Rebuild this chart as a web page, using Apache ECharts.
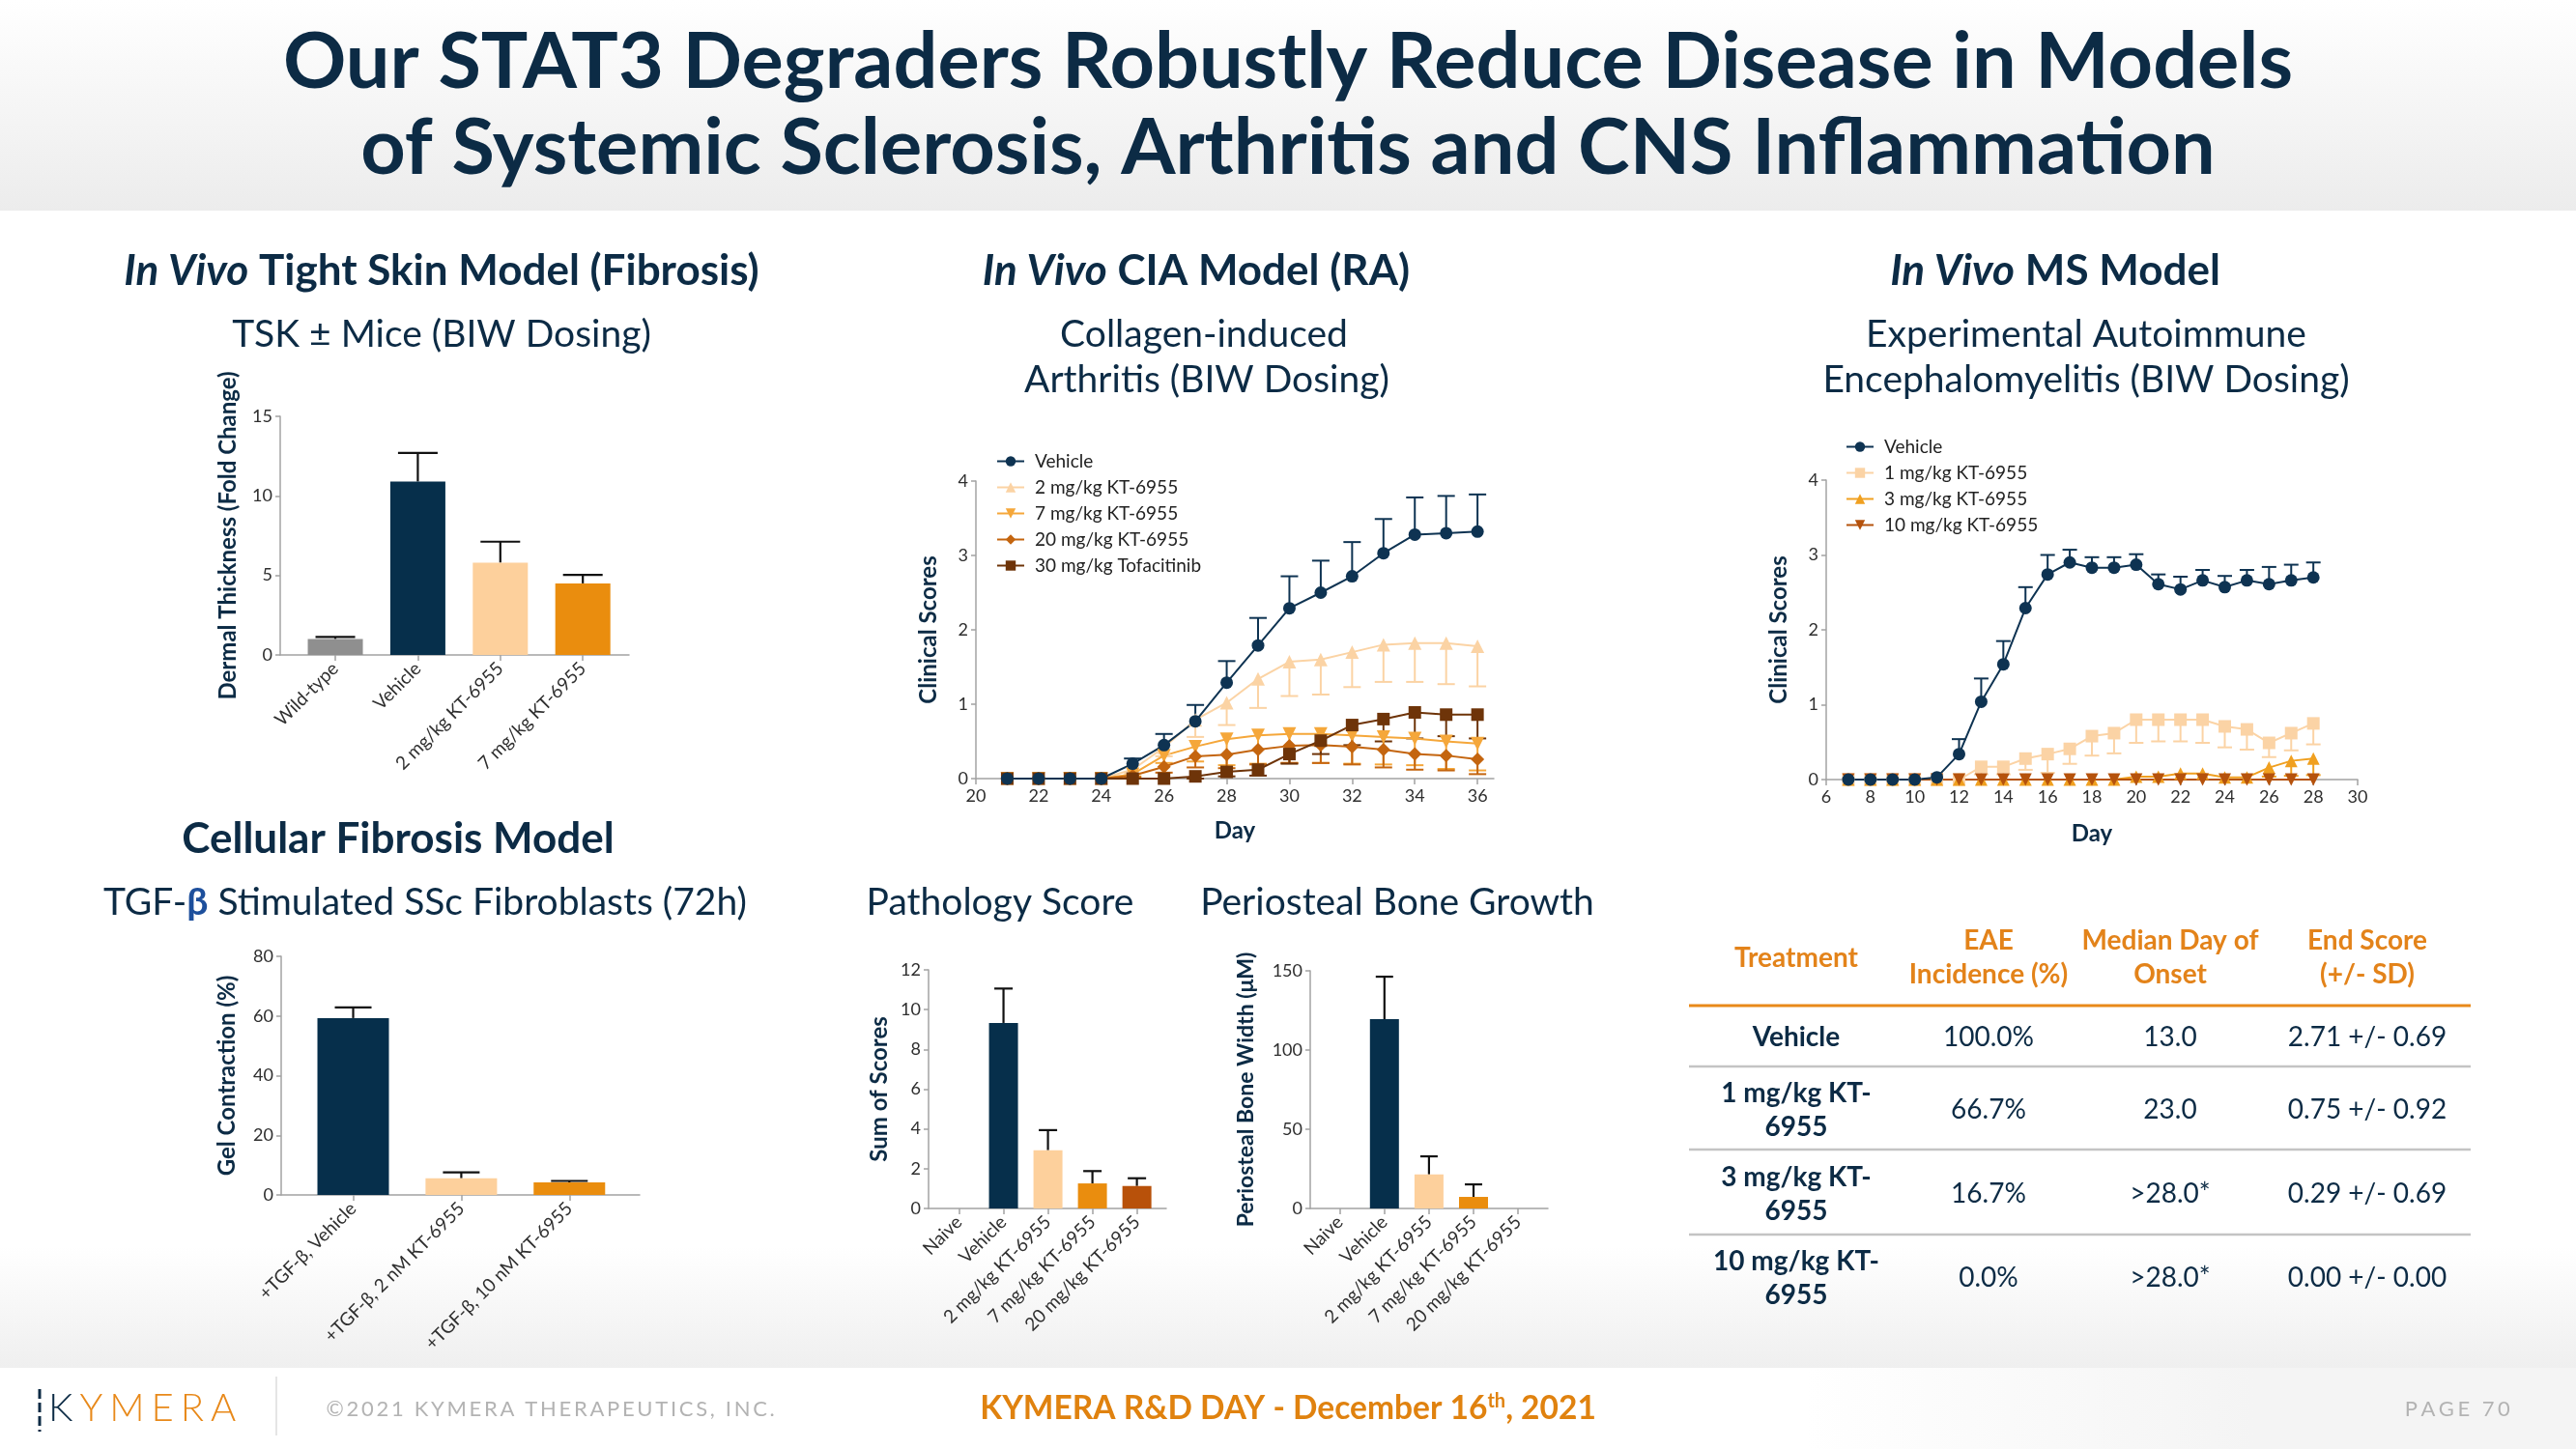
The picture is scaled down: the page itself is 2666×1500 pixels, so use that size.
<!DOCTYPE html>
<html><head><meta charset="utf-8">
<script src="https://cdn.jsdelivr.net/npm/echarts@6/dist/echarts.min.js"></script>
<style>html,body{margin:0;padding:0;background:#fff}#c{width:2666px;height:1500px}</style>
</head><body><div id="c"></div>
<script>
// ---------- DATA ----------
const tskCategories = ['Wild-type', 'Vehicle', '2 mg/kg KT-6955', '7 mg/kg KT-6955'];
const tskValues = [1.0, 10.9, 5.8, 4.5];
const tskErrors = [0.13, 1.8, 1.32, 0.53];

const gelCategories = ['+TGF-β, Vehicle', '+TGF-β, 2 nM KT-6955', '+TGF-β, 10 nM KT-6955'];
const gelValues = [59.3, 5.6, 4.2];
const gelErrors = [3.6, 2.0, 0.5];

const pathCategories = ['Naive', 'Vehicle', '2 mg/kg KT-6955', '7 mg/kg KT-6955', '20 mg/kg KT-6955'];
const pathValues = [0, 9.33, 2.93, 1.26, 1.13];
const pathErrors = [0, 1.73, 1.01, 0.62, 0.39];

const periCategories = ['Naive', 'Vehicle', '2 mg/kg KT-6955', '7 mg/kg KT-6955', '20 mg/kg KT-6955'];
const periValues = [0, 119.5, 21.5, 7.3, 0];
const periErrors = [0, 26.8, 11.4, 7.9, 0];

const ciaDays = [21, 22, 23, 24, 25, 26, 27, 28, 29, 30, 31, 32, 33, 34, 35, 36];
const ciaNames = ['Vehicle', '2 mg/kg KT-6955', '7 mg/kg KT-6955', '20 mg/kg KT-6955', '30 mg/kg Tofacitinib'];
const ciaVehicle = [0, 0, 0, 0, 0.20, 0.45, 0.77, 1.29, 1.79, 2.29, 2.50, 2.72, 3.03, 3.28, 3.30, 3.32];
const ciaVehicleErr = [0, 0, 0, 0, 0.07, 0.15, 0.22, 0.29, 0.37, 0.43, 0.43, 0.46, 0.46, 0.50, 0.50, 0.50];
const cia2mg = [0, 0, 0, 0, 0.12, 0.42, 0.79, 1.02, 1.34, 1.57, 1.60, 1.70, 1.80, 1.82, 1.82, 1.78];
const cia2mgErr = [0, 0, 0, 0, 0.05, 0.12, 0.23, 0.30, 0.39, 0.46, 0.47, 0.47, 0.50, 0.52, 0.55, 0.54];
const cia7mg = [0, 0, 0, 0, 0.06, 0.31, 0.43, 0.53, 0.58, 0.60, 0.60, 0.58, 0.56, 0.54, 0.50, 0.47];
const cia7mgErr = [0, 0, 0, 0, 0.03, 0.10, 0.20, 0.35, 0.38, 0.39, 0.39, 0.38, 0.37, 0.36, 0.37, 0.36];
const cia20mg = [0, 0, 0, 0, 0.04, 0.16, 0.30, 0.32, 0.39, 0.44, 0.45, 0.43, 0.39, 0.33, 0.31, 0.26];
const cia20mgErr = [0, 0, 0, 0, 0.02, 0.08, 0.15, 0.18, 0.20, 0.23, 0.24, 0.24, 0.24, 0.21, 0.20, 0.20];
const ciaTofa = [0, 0, 0, 0, 0, 0, 0.03, 0.09, 0.12, 0.33, 0.51, 0.72, 0.80, 0.89, 0.86, 0.86];
const ciaTofaErr = [0, 0, 0, 0, 0, 0, 0.03, 0.06, 0.08, 0.13, 0.18, 0.27, 0.30, 0.35, 0.29, 0.32];
const ciaTicks = [20, 22, 24, 26, 28, 30, 32, 34, 36];

const msDays = [7, 8, 9, 10, 11, 12, 13, 14, 15, 16, 17, 18, 19, 20, 21, 22, 23, 24, 25, 26, 27, 28];
const msNames = ['Vehicle', '1 mg/kg KT-6955', '3 mg/kg KT-6955', '10 mg/kg KT-6955'];
const msVehicle = [0, 0, 0, 0, 0.03, 0.34, 1.04, 1.54, 2.29, 2.74, 2.90, 2.83, 2.83, 2.87, 2.61, 2.54, 2.66, 2.57, 2.66, 2.61, 2.66, 2.70];
const msVehicleErr = [0, 0, 0, 0, 0, 0.20, 0.31, 0.31, 0.28, 0.26, 0.17, 0.14, 0.14, 0.14, 0.13, 0.17, 0.14, 0.15, 0.14, 0.23, 0.21, 0.20];
const ms1mg = [0, 0, 0, 0, 0, 0, 0.17, 0.17, 0.28, 0.34, 0.41, 0.58, 0.62, 0.80, 0.80, 0.80, 0.80, 0.71, 0.67, 0.49, 0.62, 0.75];
const ms1mgErr = [0, 0, 0, 0, 0, 0, 0.10, 0.10, 0.15, 0.25, 0.20, 0.26, 0.27, 0.31, 0.29, 0.29, 0.31, 0.28, 0.27, 0.19, 0.23, 0.28];
const ms3mg = [0, 0, 0, 0, 0, 0, 0, 0, 0, 0, 0, 0, 0, 0.04, 0.04, 0.08, 0.08, 0.03, 0.03, 0.16, 0.25, 0.28];
const ms3mgErr = [0, 0, 0, 0, 0, 0, 0, 0, 0, 0, 0, 0, 0, 0.04, 0.04, 0.08, 0.08, 0.03, 0.03, 0.12, 0.20, 0.22];
const ms10mg = [0, 0, 0, 0, 0, 0, 0, 0, 0, 0, 0, 0, 0, 0, 0, 0, 0, 0, 0, 0, 0, 0];
const msTicks = [6, 8, 10, 12, 14, 16, 18, 20, 22, 24, 26, 28, 30];

const tableHeaders = [['Treatment'], ['EAE', 'Incidence (%)'], ['Median Day of', 'Onset'], ['End Score', '(+/- SD)']];
const tableTreatments = [['Vehicle'], ['1 mg/kg KT-', '6955'], ['3 mg/kg KT-', '6955'], ['10 mg/kg KT-', '6955']];
const tableIncidence = ['100.0%', '66.7%', '16.7%', '0.0%'];
const tableOnset = ['13.0', '23.0', '>28.0*', '>28.0*'];
const tableEndScore = ['2.71 +/- 0.69', '0.75 +/- 0.92', '0.29 +/- 0.69', '0.00 +/- 0.00'];

// ---------- STYLE ----------
const FONT = 'Lato, "Noto Sans", sans-serif';
const NAVY = '#0c2b45';
const ORANGE_TXT = '#e3831a';
const AXIS = '#a3a3a3';
const LABEL = '#2f2f2f';
const C_NAVY = '#062f4b', C_GREY = '#8f8f8f', C_PEACH = '#fdd09c', C_ORANGE = '#ea8d0e', C_DARKOR = '#b8510a', C_BROWN = '#6e3409';
const C_LORANGE = '#f5a73a', C_DIAMOND = '#c4650f';

const chart = echarts.init(document.getElementById('c'), null, {renderer: 'canvas'});

const grids = [], xAxes = [], yAxes = [], series = [];

function addBarChart(g, cats, vals, errs, colors, xmin, xmax, ymax, yint, name, nameGap, nameSize, barW, capW) {
  const i = grids.length;
  grids.push({left: g[0], top: g[1], width: g[2], height: g[3]});
  const idx = cats.map((c, k) => k);
  xAxes.push({type: 'value', gridIndex: i, min: xmin, max: xmax,
    axisLine: {show: true, onZero: false, lineStyle: {color: AXIS, width: 1.5}},
    axisTick: {show: true, customValues: idx, length: 6, lineStyle: {color: AXIS, width: 1.5}},
    axisLabel: {customValues: idx, formatter: v => cats[Math.round(v)], rotate: 45, fontSize: 19, color: LABEL, fontFamily: FONT, margin: 11},
    splitLine: {show: false}});
  yAxes.push({type: 'value', gridIndex: i, min: 0, max: ymax, interval: yint,
    axisLine: {show: true, onZero: false, lineStyle: {color: AXIS, width: 1.5}},
    axisTick: {show: true, length: 5, lineStyle: {color: AXIS, width: 1.5}},
    axisLabel: {fontSize: 18, color: LABEL, fontFamily: FONT, margin: 8},
    splitLine: {show: false},
    name: name, nameLocation: 'middle', nameRotate: 90, nameGap: nameGap,
    nameTextStyle: {fontSize: nameSize, fontWeight: 'bold', color: NAVY, fontFamily: FONT}});
  series.push({type: 'bar', xAxisIndex: i, yAxisIndex: i, barWidth: barW, animation: false,
    data: vals.map((v, k) => ({value: [k, v], itemStyle: {color: colors[k]}}))});
  series.push(errorBars(i, vals.map((v, k) => [k, v, errs[k]]), 1, '#111', capW, 2.2));
}

function errorBars(i, points, dir, color, cap, lw) {
  return {type: 'custom', xAxisIndex: i, yAxisIndex: i, silent: true, clip: false, animation: false,
    data: points,
    renderItem: (params, api) => {
      const x = api.value(0), y = api.value(1), e = api.value(2);
      if (!e) return null;
      const a = api.coord([x, y]), b = api.coord([x, y + dir * e]);
      return {type: 'group', children: [
        {type: 'line', shape: {x1: a[0], y1: a[1], x2: b[0], y2: b[1]}, style: {stroke: color, lineWidth: lw}},
        {type: 'line', shape: {x1: b[0] - cap / 2, y1: b[1], x2: b[0] + cap / 2, y2: b[1]}, style: {stroke: color, lineWidth: lw}}
      ]};
    }};
}

function addLineAxes(g, xmin, xmax, ticks, nameGapY, nameGapX) {
  const i = grids.length;
  grids.push({left: g[0], top: g[1], width: g[2], height: g[3]});
  xAxes.push({type: 'value', gridIndex: i, min: xmin, max: xmax,
    axisLine: {show: true, onZero: false, lineStyle: {color: AXIS, width: 1.5}},
    axisTick: {show: true, customValues: ticks, length: 6, lineStyle: {color: AXIS, width: 1.5}},
    axisLabel: {customValues: ticks, fontSize: 18, color: LABEL, fontFamily: FONT, margin: 9},
    splitLine: {show: false},
    name: 'Day', nameLocation: 'middle', nameGap: nameGapX,
    nameTextStyle: {fontSize: 24, fontWeight: 'bold', color: NAVY, fontFamily: FONT}});
  yAxes.push({type: 'value', gridIndex: i, min: 0, max: 4, interval: 1,
    axisLine: {show: true, onZero: false, lineStyle: {color: AXIS, width: 1.5}},
    axisTick: {show: true, length: 5, lineStyle: {color: AXIS, width: 1.5}},
    axisLabel: {fontSize: 18, color: LABEL, fontFamily: FONT, margin: 8},
    splitLine: {show: false},
    name: 'Clinical Scores', nameLocation: 'middle', nameRotate: 90, nameGap: nameGapY,
    nameTextStyle: {fontSize: 24, fontWeight: 'bold', color: NAVY, fontFamily: FONT}});
  return i;
}

function addLine(i, name, xs, ys, errs, dir, symbol, rot, color, size, cap) {
  series.push(errorBars(i, xs.map((x, k) => [x, ys[k], errs ? errs[k] : 0]), dir, color, cap, 2));
  series.push({type: 'line', name: name, xAxisIndex: i, yAxisIndex: i, animation: false,
    data: xs.map((x, k) => [x, ys[k]]), symbol: symbol, symbolRotate: rot, symbolSize: size,
    showSymbol: true, lineStyle: {color: color, width: 2}, itemStyle: {color: color}});
}

// ---------- CHARTS ----------
addBarChart([290, 431, 361, 247], tskCategories, tskValues, tskErrors, [C_GREY, C_NAVY, C_PEACH, C_ORANGE],
  -0.668, 3.56, 15, 5, 'Dermal Thickness (Fold Change)', 42, 24, 57, 41);
addBarChart([291, 990, 371, 247], gelCategories, gelValues, gelErrors, [C_NAVY, C_PEACH, C_ORANGE],
  -0.666, 2.65, 80, 20, 'Gel Contraction (%)', 44, 24, 74, 38);
addBarChart([961, 1004, 246, 247], pathCategories, pathValues, pathErrors, [C_GREY, C_NAVY, C_PEACH, C_ORANGE, C_DARKOR],
  -0.685, 4.66, 12, 2, 'Sum of Scores', 39, 24, 30, 19);
addBarChart([1356, 1005, 246, 246], periCategories, periValues, periErrors, [C_GREY, C_NAVY, C_PEACH, C_ORANGE, C_DARKOR],
  -0.666, 4.67, 150, 50, 'Periosteal Bone Width (μM)', 55, 23, 30, 18);

const ci = addLineAxes([1010, 498, 536, 308], 20, 36.52, ciaTicks, 37, 42);
addLine(ci, ciaNames[1], ciaDays, cia2mg, cia2mgErr, -1, 'triangle', 0, '#fbd3a4', 14, 18);
addLine(ci, ciaNames[2], ciaDays, cia7mg, cia7mgErr, -1, 'triangle', 180, C_LORANGE, 14, 18);
addLine(ci, ciaNames[3], ciaDays, cia20mg, cia20mgErr, -1, 'diamond', 0, C_DIAMOND, 14, 18);
addLine(ci, ciaNames[4], ciaDays, ciaTofa, ciaTofaErr, -1, 'rect', 0, C_BROWN, 13, 18);
addLine(ci, ciaNames[0], ciaDays, ciaVehicle, ciaVehicleErr, 1, 'circle', 0, '#0e3352', 13, 18);

const mi = addLineAxes([1890, 497, 550, 310], 6, 30, msTicks, 37, 44);
addLine(mi, msNames[1], msDays, ms1mg, ms1mgErr, -1, 'rect', 0, '#fbd3a5', 13, 15);
addLine(mi, msNames[2], msDays, ms3mg, ms3mgErr, -1, 'triangle', 0, '#f0a020', 13, 15);
addLine(mi, msNames[3], msDays, ms10mg, null, -1, 'triangle', 180, '#b5520c', 13, 15);
addLine(mi, msNames[0], msDays, msVehicle, msVehicleErr, 1, 'circle', 0, '#0e3352', 13, 15);

const legendBase = {orient: 'vertical', itemWidth: 28, itemHeight: 13, itemGap: 8, selectedMode: false,
  textStyle: {fontSize: 19, color: '#222', fontFamily: FONT, padding: [0, 0, 0, 6]}};

// ---------- GRAPHICS (background, headings, table, footer) ----------
const g = [];
function txt(x, y, text, font, fill, align, extra) {
  g.push({type: 'text', x: x, y: y, z: 20, silent: true,
    style: Object.assign({text: text, font: font, fill: fill, align: align || 'center', verticalAlign: 'middle',
      textAlign: align || 'center', textVerticalAlign: 'middle'}, extra || {})});
}
function hline(x1, x2, y, color, w) {
  g.push({type: 'line', z: 15, silent: true, shape: {x1: x1, y1: y, x2: x2, y2: y}, style: {stroke: color, lineWidth: w}});
}
// letter-spaced rich text: each character is its own token with right padding
function spaced(str, key) {
  return str.split('').map(ch => '{' + key + '|' + ch + '}').join('');
}
g.push({type: 'rect', z: -10, silent: true, shape: {x: 0, y: 0, width: 2666, height: 218},
  style: {fill: {type: 'linear', x: 0, y: 0, x2: 0, y2: 1, colorStops: [{offset: 0, color: '#ffffff'}, {offset: 1, color: '#ececec'}]}}});
g.push({type: 'rect', z: -10, silent: true, shape: {x: 0, y: 1290, width: 2666, height: 126},
  style: {fill: {type: 'linear', x: 0, y: 0, x2: 0, y2: 1, colorStops: [{offset: 0, color: '#ffffff'}, {offset: 1, color: '#efefef'}]}}});
g.push({type: 'rect', z: -9, silent: true, shape: {x: 1870, y: 1416, width: 463, height: 84},
  style: {fill: {type: 'linear', x: 0, y: 0, x2: 1, y2: 0, colorStops: [{offset: 0, color: '#ffffff'}, {offset: 1, color: '#f4f4f4'}]}}});
g.push({type: 'rect', z: -9, silent: true, shape: {x: 2333, y: 1416, width: 333, height: 84}, style: {fill: '#f4f4f4'}});

// Title
txt(1333, 65, 'Our STAT3 Degraders Robustly Reduce Disease in Models', 'bold 81px ' + FONT, NAVY);
txt(1333, 154, 'of Systemic Sclerosis, Arthritis and CNS Inflammation', 'bold 81px ' + FONT, NAVY);

// Section headings
const HS = 44;
const headRich = {
  it: {fontStyle: 'italic', fontWeight: 'bold', fontSize: HS, fontFamily: FONT, fill: NAVY},
  n: {fontWeight: 'bold', fontSize: HS, fontFamily: FONT, fill: NAVY}
};
txt(457, 281, '{it|In Vivo}{n| Tight Skin Model (Fibrosis)}', 'bold 44px ' + FONT, NAVY, 'center', {rich: headRich});
txt(1238, 281, '{it|In Vivo}{n| CIA Model (RA)}', 'bold 44px ' + FONT, NAVY, 'center', {rich: headRich});
txt(2127, 281, '{it|In Vivo}{n| MS Model}', 'bold 44px ' + FONT, NAVY, 'center', {rich: headRich});
const SUB = '39px ' + FONT;
txt(457, 346, 'TSK ± Mice (BIW Dosing)', SUB, NAVY);
txt(1246, 346, 'Collagen-induced', SUB, NAVY);
txt(1249, 393, 'Arthritis (BIW Dosing)', SUB, NAVY);
txt(2159, 346, 'Experimental Autoimmune', SUB, NAVY);
txt(2159, 393, 'Encephalomyelitis (BIW Dosing)', SUB, NAVY);
txt(412, 869, 'Cellular Fibrosis Model', 'bold 44px ' + FONT, NAVY);
txt(440, 934, '{n|TGF-}{b|β}{n| Stimulated SSc Fibroblasts (72h)}', SUB, NAVY, 'center', {rich: {
  n: {fontSize: 39, fontFamily: FONT, fill: NAVY},
  b: {fontSize: 39, fontWeight: 'bold', fontFamily: FONT, fill: '#1d4f9c'}}});
txt(1035, 934, 'Pathology Score', SUB, NAVY);
txt(1446, 934, 'Periosteal Bone Growth', SUB, NAVY);

// Table
const colX = [1859, 2058, 2246, 2450];
const TH = 'bold 28px ' + FONT;
txt(colX[0], 992, tableHeaders[0][0], TH, ORANGE_TXT);
for (let c = 1; c < 4; c++) {
  txt(colX[c], 974, tableHeaders[c][0], TH, ORANGE_TXT);
  txt(colX[c], 1009, tableHeaders[c][1], TH, ORANGE_TXT);
}
hline(1748, 2557, 1041, '#e8891a', 3);
const rowMid = [1074, 1149, 1236, 1323];
const lineGapsY = [1104, 1190, 1278];
lineGapsY.forEach(y => hline(1748, 2557, y, '#c4c4c4', 2.5));
for (let r = 0; r < 4; r++) {
  const t = tableTreatments[r];
  if (t.length === 1) txt(colX[0], rowMid[r], t[0], 'bold 28px ' + FONT, NAVY);
  else { txt(colX[0], rowMid[r] - 17, t[0], 'bold 28px ' + FONT, NAVY); txt(colX[0], rowMid[r] + 18, t[1], 'bold 28px ' + FONT, NAVY); }
  txt(colX[1], rowMid[r], tableIncidence[r], '28px ' + FONT, NAVY);
  txt(colX[2], rowMid[r], tableOnset[r], '28px ' + FONT, NAVY);
  txt(colX[3], rowMid[r], tableEndScore[r], '28px ' + FONT, NAVY);
}

// Footer
g.push({type: 'line', z: 15, silent: true, shape: {x1: 41, y1: 1438, x2: 41, y2: 1482}, style: {stroke: NAVY, lineWidth: 3, lineDash: [10, 4]}});
txt(50, 1458, '{k|K}' + spaced('YMERA', 'o'), '300 40px ' + FONT, NAVY, 'left', {rich: {
  k: {fontSize: 40, fontWeight: 300, fontFamily: FONT, fill: NAVY, padding: [0, 7, 0, 0]},
  o: {fontSize: 40, fontWeight: 300, fontFamily: FONT, fill: '#e8891a', padding: [0, 7, 0, 0]}}});
g.push({type: 'line', z: 15, silent: true, shape: {x1: 286, y1: 1425, x2: 286, y2: 1486}, style: {stroke: '#dddddd', lineWidth: 1.5}});
txt(571, 1459, spaced('©2021 KYMERA THERAPEUTICS, INC.', 'c'), '22px ' + FONT, '#b3b3b3', 'center', {rich: {
  c: {fontSize: 22, fontFamily: FONT, fill: '#b3b3b3', padding: [0, 2.7, 0, 0]}}});
txt(1333, 1458, '{n|KYMERA R&D DAY - December 16}{s|th}{n|, 2021}', 'bold 33px ' + FONT, '#e0820f', 'center', {rich: {
  n: {fontSize: 33.5, fontWeight: 'bold', fontFamily: FONT, fill: '#e0820f'},
  s: {fontSize: 20, fontWeight: 'bold', fontFamily: FONT, fill: '#e0820f', verticalAlign: 'top', padding: [0, 0, 14, 0]}}});
txt(2545, 1459, spaced('PAGE 70', 'p'), '22px ' + FONT, '#b3b3b3', 'center', {rich: {
  p: {fontSize: 22, fontFamily: FONT, fill: '#b3b3b3', padding: [0, 3.5, 0, 0]}}});

chart.setOption({
  backgroundColor: '#ffffff',
  animation: false,
  textStyle: {fontFamily: FONT},
  grid: grids,
  xAxis: xAxes,
  yAxis: yAxes,
  legend: [
    Object.assign({}, legendBase, {data: ciaNames, left: 1026, top: 463}),
    Object.assign({}, legendBase, {data: msNames, left: 1905, top: 448})
  ],
  series: series,
  graphic: {elements: g}
});
</script></body></html>
